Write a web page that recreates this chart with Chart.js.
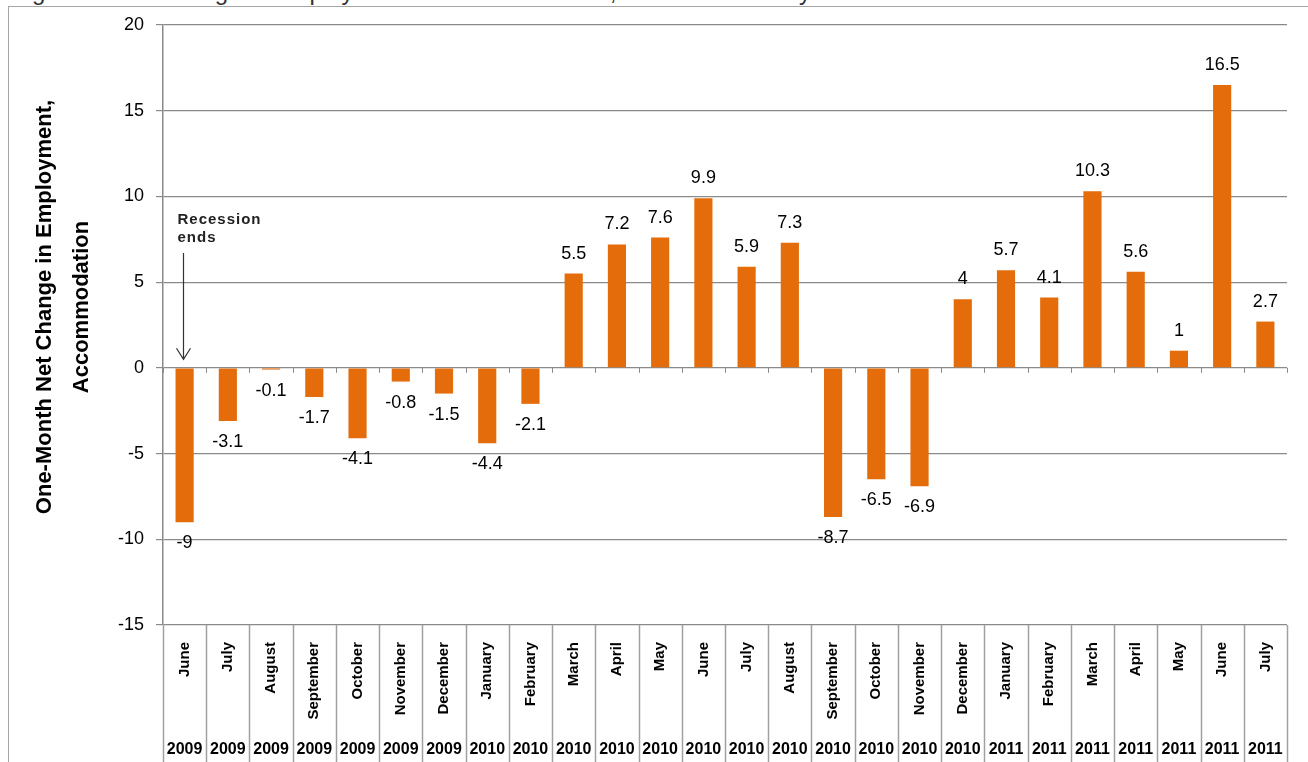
<!DOCTYPE html>
<html>
<head>
<meta charset="utf-8">
<title>One-Month Net Change in Employment, Accommodation</title>
<script src="https://cdn.jsdelivr.net/npm/chart.js@4.4.0/dist/chart.umd.min.js"></script>
<style>
  html, body { margin: 0; padding: 0; background: #fff; overflow: hidden; }
  #page { position: relative; width: 1308px; height: 762px; overflow: hidden; }
  #heading {
    position: absolute; left: 12px; top: -22px; white-space: nowrap;
    font: 24px "Liberation Sans", Arial, sans-serif; line-height: 28px; color: #333;
  }
  #frame {
    position: absolute; left: 8px; top: 6px; width: 1400px; height: 900px;
    border: 1.5px solid #a6a6a6;
  }
  #wrap { position: absolute; left: 0; top: 0; width: 1308px; height: 762px; }
</style>
</head>
<body>
<div id="page">
  <div id="heading">Figure 1. Net Change in Employment in Accommodation, June 2009 to July 2011</div>
  <div id="frame"></div>
  <div id="wrap"><canvas id="chart" width="1308" height="762"></canvas></div>
</div>
<script>
// Monthly net change, June 2009 - July 2011 (thousands)
const months = ['June', 'July', 'August', 'September', 'October', 'November', 'December',
  'January', 'February', 'March', 'April', 'May', 'June', 'July', 'August', 'September',
  'October', 'November', 'December', 'January', 'February', 'March', 'April', 'May', 'June', 'July'];
const years = ['2009', '2009', '2009', '2009', '2009', '2009', '2009',
  '2010', '2010', '2010', '2010', '2010', '2010', '2010', '2010', '2010',
  '2010', '2010', '2010', '2011', '2011', '2011', '2011', '2011', '2011', '2011'];
const netChange = [-9, -3.1, -0.1, -1.7, -4.1, -0.8, -1.5, -4.4, -2.1, 5.5, 7.2, 7.6, 9.9,
  5.9, 7.3, -8.7, -6.5, -6.9, 4, 5.7, 4.1, 10.3, 5.6, 1, 16.5, 2.7];
const yTicks = [-15, -10, -5, 0, 5, 10, 15, 20];
const yTitle = ['One-Month Net Change in Employment,', 'Accommodation'];
const noteLines = ['Recession', 'ends'];
const noteIndex = 0;

const FONT = '"Liberation Sans", Arial, sans-serif';
const ORANGE = '#e46c0a';
const GRID = '#8a8a8a';

// value printed beyond the end of each bar
const valueLabels = {
  id: 'valueLabels',
  afterDatasetsDraw(chart) {
    const ctx = chart.ctx;
    const meta = chart.getDatasetMeta(0);
    ctx.save();
    ctx.font = '18px ' + FONT;
    ctx.fillStyle = '#000';
    ctx.textAlign = 'center';
    meta.data.forEach((bar, i) => {
      const v = netChange[i];
      if (v >= 0) {
        ctx.textBaseline = 'bottom';
        ctx.fillText(String(v), bar.x, bar.y - 11);
      } else {
        ctx.textBaseline = 'top';
        ctx.fillText(String(v), bar.x, bar.y + 12);
      }
    });
    ctx.restore();
  }
};

// cell borders under the plot plus the small ticks on the zero line
const categoryTable = {
  id: 'categoryTable',
  afterDraw(chart) {
    const ctx = chart.ctx;
    const xs = chart.scales.x;
    const ys = chart.scales.y;
    const area = chart.chartArea;
    const y0 = ys.getPixelForValue(0);
    ctx.save();
    for (let k = 0; k <= months.length; k++) {
      const x = Math.round(xs.getPixelForValue(k - 0.5)) + 0.5;
      ctx.strokeStyle = '#a0a0a0';
      ctx.lineWidth = 1.5;
      ctx.beginPath();
      ctx.moveTo(x, area.bottom);
      ctx.lineTo(x, chart.height);
      ctx.stroke();
      ctx.strokeStyle = GRID;
      ctx.lineWidth = 1;
      ctx.beginPath();
      ctx.moveTo(x, y0);
      ctx.lineTo(x, y0 + 5);
      ctx.stroke();
    }
    ctx.restore();
  }
};

// two-line vertical axis title
const sideTitle = {
  id: 'sideTitle',
  afterDraw(chart) {
    const ctx = chart.ctx;
    ctx.save();
    ctx.translate(63, 307);
    ctx.rotate(-Math.PI / 2);
    ctx.font = 'bold 22px ' + FONT;
    ctx.fillStyle = '#000';
    ctx.textAlign = 'center';
    ctx.textBaseline = 'middle';
    ctx.fillText(yTitle[0], 0, -18);
    ctx.fillText(yTitle[1], 0, 19);
    ctx.restore();
  }
};

// "Recession ends" arrow over the first month
const recessionNote = {
  id: 'recessionNote',
  afterDraw(chart) {
    const ctx = chart.ctx;
    const xs = chart.scales.x;
    const ys = chart.scales.y;
    const x = Math.round(xs.getPixelForValue(noteIndex)) - 1.5;
    const top = ys.getPixelForValue(6.7);
    const tip = ys.getPixelForValue(0.5);
    ctx.save();
    ctx.strokeStyle = '#333';
    ctx.lineWidth = 1.2;
    ctx.beginPath();
    ctx.moveTo(x, top);
    ctx.lineTo(x, tip);
    ctx.moveTo(x - 7, tip - 11);
    ctx.lineTo(x, tip);
    ctx.lineTo(x + 7, tip - 11);
    ctx.stroke();
    ctx.font = 'bold 15px ' + FONT;
    ctx.letterSpacing = '1px';
    ctx.fillStyle = '#222';
    ctx.textAlign = 'left';
    ctx.textBaseline = 'middle';
    ctx.fillText(noteLines[0], x - 6, ys.getPixelForValue(8.65));
    ctx.fillText(noteLines[1], x - 6, ys.getPixelForValue(7.6));
    ctx.restore();
  }
};

new Chart(document.getElementById('chart'), {
  type: 'bar',
  data: {
    labels: months,
    datasets: [{
      data: netChange,
      backgroundColor: ORANGE,
      borderWidth: 0,
      barPercentage: 0.42,
      categoryPercentage: 1
    }]
  },
  options: {
    responsive: false,
    animation: false,
    events: [],
    layout: { padding: { top: 25, right: 21, left: 0, bottom: 0 } },
    plugins: { legend: { display: false }, tooltip: { enabled: false } },
    scales: {
      x: {
        type: 'category',
        position: 'bottom',
        offset: true,
        grid: { display: false },
        border: { display: false },
        ticks: {
          autoSkip: false,
          minRotation: 90,
          maxRotation: 90,
          padding: 9,
          color: '#000',
          font: { family: FONT, size: 15, weight: 'bold' }
        },
        afterFit(scale) { scale.height = 107; }
      },
      x2: {
        type: 'category',
        position: 'bottom',
        labels: years,
        offset: true,
        grid: { display: false },
        border: { display: false },
        ticks: {
          autoSkip: false,
          minRotation: 0,
          maxRotation: 0,
          padding: 0,
          color: '#000',
          font: { family: FONT, size: 16, weight: 'bold' }
        },
        afterFit(scale) { scale.height = 30; }
      },
      y: {
        min: -15,
        max: 20,
        afterBuildTicks(scale) { scale.ticks = yTicks.map(v => ({ value: v })); },
        grid: { color: GRID, lineWidth: 1.2, tickLength: 7, drawTicks: true },
        border: { display: true, color: GRID, width: 1.5 },
        ticks: {
          padding: 12,
          color: '#000',
          font: { family: FONT, size: 18 }
        },
        afterFit(scale) { scale.width = 163; }
      }
    }
  },
  plugins: [valueLabels, categoryTable, sideTitle, recessionNote]
});
</script>
</body>
</html>
